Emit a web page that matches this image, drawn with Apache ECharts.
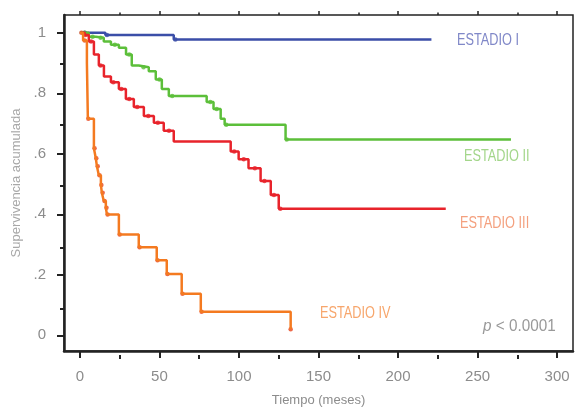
<!DOCTYPE html>
<html>
<head>
<meta charset="utf-8">
<title>Supervivencia acumulada por estadio</title>
<script src="https://cdn.jsdelivr.net/npm/echarts@6.0.0/dist/echarts.min.js"></script>
<style>
	html, body { margin: 0; padding: 0; background: #fff; }
	#chart { width: 578px; height: 412px; }
</style>
</head>
<body>
<div id="chart"></div>
<script type="text/javascript">
	// ejes
	var xTicks = [0, 50, 100, 150, 200, 250, 300];
	var xMinor = [25, 75, 125, 175, 225, 275];
	var yTicks = [0, 0.2, 0.4, 0.6, 0.8, 1];
	var yTickLabels = ['0', '.2', '.4', '.6', '.8', '1'];
	var yMinor = [0.1, 0.3, 0.5, 0.7, 0.9];

	// Estadio I
	var t1 = [0, 16, 59, 221];
	var s1 = [1, 0.993, 0.978, 0.978];
	var c1 = [3, 17, 60];

	// Estadio II
	var t2 = [0, 5.6, 10, 15, 19.5, 24.5, 29, 32.6, 37, 43.3, 47.7, 51.5, 55.9, 79.7, 84, 88.5, 91, 129.3, 271];
	var s2 = [1, 0.987, 0.984, 0.971, 0.961, 0.951, 0.928, 0.892, 0.886, 0.873, 0.846, 0.814, 0.791, 0.771, 0.748, 0.716, 0.696, 0.647, 0.647];
	var c2 = [3, 8, 13, 22, 31, 40, 50, 58, 82, 86, 92, 130];

	// Estadio III
	var t3 = [0, 3.1, 5.6, 8.8, 11.9, 15.1, 19.5, 24.5, 28.9, 33.9, 40.2, 46.5, 52.7, 59, 94.8, 99.8, 106, 113.6, 120, 125, 230];
	var s3 = [1, 0.993, 0.971, 0.928, 0.892, 0.856, 0.837, 0.814, 0.781, 0.755, 0.725, 0.703, 0.676, 0.641, 0.608, 0.582, 0.552, 0.510, 0.464, 0.418, 0.418];
	var c3 = [3.5, 7, 13, 21, 26, 31, 36, 43, 49, 56, 97, 103, 110, 116, 122, 126];

	// Estadio IV
	var t4 = [0, 2, 4.4, 5, 8.8, 10, 10.7, 11.9, 13.2, 13.8, 15, 16.3, 17, 24.5, 37, 48.3, 54.6, 64, 76, 132.5];
	var s4 = [1, 0.975, 0.9, 0.716, 0.618, 0.585, 0.559, 0.529, 0.497, 0.471, 0.444, 0.422, 0.399, 0.333, 0.291, 0.248, 0.203, 0.137, 0.078, 0.02];
	var c4 = [1, 3, 5.3, 9.2, 10.3, 11.2, 12.3, 13.5, 14.3, 15.5, 16.7, 17.4, 25, 37.5, 48.8, 55, 64.5, 76.5, 132.5];

	var font = "'Liberation Sans', Arial, sans-serif";
	var gris = '#8c8c8c';

	function pares(t, s) {
		var out = [];
		for (var i = 0; i < t.length; i++) out.push([t[i], s[i]]);
		return out;
	}
	// censuras: valor de la curva en ese tiempo
	function censuras(t, s, c) {
		var out = [];
		for (var j = 0; j < c.length; j++) {
			var v = s[0];
			for (var i = 0; i < t.length; i++) if (t[i] <= c[j]) v = s[i];
			out.push([c[j], v]);
		}
		return out;
	}

	function curva(data, color) {
		return { type: 'line', step: 'end', data: data, showSymbol: false, xAxisIndex: 0, yAxisIndex: 0,
			lineStyle: { color: color, width: 2.5 }, itemStyle: { color: color }, silent: true };
	}
	function marcas(data, color) {
		return { type: 'scatter', data: data, symbol: 'circle', symbolSize: 4.5, xAxisIndex: 0, yAxisIndex: 0,
			itemStyle: { color: color }, silent: true };
	}
	function rotulo(x, y, txt, color, sx) {
		return { type: 'text', x: x, y: y, scaleX: sx, originX: 0, originY: 0,
			style: { text: txt, fill: color, font: '17px ' + font, textVerticalAlign: 'middle' } };
	}

	var rect = { left: 64, right: 5, top: 15, bottom: 57 };
	var myChart = echarts.init(document.getElementById('chart'));
	var option = {
		animation: false,
		grid: [
			Object.assign({ show: true, borderColor: '#222', borderWidth: 1.5 }, rect),
			Object.assign({ show: false }, rect)
		],
		xAxis: [
			{
				type: 'value', gridIndex: 0, position: 'bottom', min: -10, max: 310,
				name: 'Tiempo (meses)', nameLocation: 'middle', nameGap: 43,
				nameTextStyle: { color: gris, fontSize: 13, fontFamily: font },
				axisLine: { show: true, onZero: false, lineStyle: { color: '#222', width: 2.5 } },
				axisTick: { show: true, customValues: xTicks, length: 7, lineStyle: { color: '#222', width: 2 } },
				axisLabel: { customValues: xTicks, margin: 18, color: gris, fontSize: 15, fontFamily: font },
				splitLine: { show: false }
			},
			{
				type: 'value', gridIndex: 0, position: 'top', min: -10, max: 310,
				axisLine: { show: false, onZero: false },
				axisTick: { show: true, customValues: xTicks, length: 4, lineStyle: { color: '#222', width: 1.5 } },
				axisLabel: { show: false }, splitLine: { show: false }
			},
			{
				type: 'value', gridIndex: 1, position: 'bottom', min: -10, max: 310,
				axisLine: { show: false, onZero: false },
				axisTick: { show: true, customValues: xMinor, length: 4, lineStyle: { color: '#222', width: 2 } },
				axisLabel: { show: false }, splitLine: { show: false }
			},
			{
				type: 'value', gridIndex: 1, position: 'top', min: -10, max: 310,
				axisLine: { show: false, onZero: false },
				axisTick: { show: true, customValues: xMinor, length: 2.5, lineStyle: { color: '#222', width: 1.5 } },
				axisLabel: { show: false }, splitLine: { show: false }
			}
		],
		yAxis: [
			{
				type: 'value', gridIndex: 0, position: 'left', min: -0.052, max: 1.059,
				name: 'Supervivencia acumulada', nameLocation: 'middle', nameGap: 34,
				nameTextStyle: { color: '#a8a8a8', fontSize: 13, fontFamily: font },
				axisLine: { show: true, onZero: false, lineStyle: { color: '#222', width: 2.5 } },
				axisTick: { show: true, customValues: yTicks, length: 7, lineStyle: { color: '#222', width: 2 } },
				axisLabel: {
					customValues: yTicks, margin: 18, color: gris, fontSize: 15, fontFamily: font,
					formatter: function (v) {
						for (var i = 0; i < yTicks.length; i++) if (Math.abs(yTicks[i] - v) < 1e-6) return yTickLabels[i];
						return '';
					}
				},
				splitLine: { show: false }
			},
			{
				type: 'value', gridIndex: 1, position: 'left', min: -0.052, max: 1.059,
				axisLine: { show: false, onZero: false },
				axisTick: { show: true, customValues: yMinor, length: 4, lineStyle: { color: '#222', width: 2 } },
				axisLabel: { show: false }, splitLine: { show: false }
			}
		],
		series: [
			curva(pares(t1, s1), '#3b4ea8'),
			marcas(censuras(t1, s1, c1), '#3b4ea8'),
			curva(pares(t2, s2), '#5cbf3a'),
			marcas(censuras(t2, s2, c2), '#5cbf3a'),
			curva(pares(t3, s3), '#e8232b'),
			marcas(censuras(t3, s3, c3), '#e8232b'),
			curva(pares(t4, s4), '#f47a20'),
			marcas(censuras(t4, s4, c4), '#e8441c')
		],
		graphic: [
			rotulo(457, 40, 'ESTADIO I', '#8088c8', 0.75),
			rotulo(464, 156, 'ESTADIO II', '#a3d68a', 0.75),
			rotulo(460, 223, 'ESTADIO III', '#f4a07e', 0.75),
			rotulo(320, 313, 'ESTADIO IV', '#f7a66c', 0.75),
			{ type: 'text', x: 483, y: 326, scaleX: 0.9, originX: 0, originY: 0, style: {
				text: '{p|p} < 0.0001', fill: '#999', font: '17px ' + font, textVerticalAlign: 'middle',
				rich: { p: { fontStyle: 'italic', fontSize: 17, fontFamily: font, fill: '#999' } }
			} }
		]
	};
	myChart.setOption(option);
</script>
</body>
</html>
